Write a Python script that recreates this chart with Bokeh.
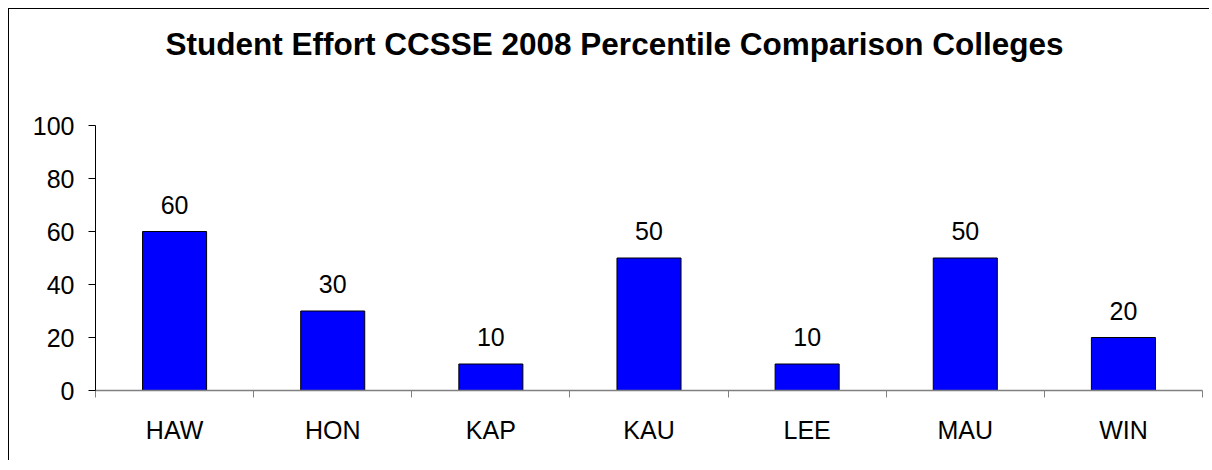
import numpy as np
from bokeh.plotting import figure
from bokeh.models import Range1d, FixedTicker, Label, ColumnDataSource
from bokeh.core.properties import value
from bokeh.embed import file_html
from bokeh.resources import INLINE

title_text = "Student Effort CCSSE 2008 Percentile Comparison Colleges"
colleges = ["HAW", "HON", "KAP", "KAU", "LEE", "MAU", "WIN"]
percentiles = [60, 30, 10, 50, 10, 50, 20]
y_ticks = [0, 20, 40, 60, 80, 100]

FONT = "Liberation Sans"

n = len(colleges)
centers = (np.arange(n) + 0.5).tolist()
bounds = list(range(n + 1))

# layout geometry (pixels)
W, H = 1201, 452
LEFT, RIGHT, BOTTOM = 86, 8, 71
AXIS_PX = 265            # pixel height of the 0..100 axis
frame_h = H - BOTTOM
y_top = 100 * frame_h / AXIS_PX   # frame extends to the top so the title fits inside

src = ColumnDataSource(dict(x=centers, y=percentiles,
                            lab=[str(v) for v in percentiles]))

p = figure(width=W, height=H, output_backend="svg", toolbar_location=None,
           x_range=Range1d(0, n), y_range=Range1d(0, y_top),
           min_border_left=LEFT, min_border_right=RIGHT, min_border_top=0,
           min_border_bottom=BOTTOM)
p.styles = {"margin-left": "8px", "margin-top": "8px",
            "border-top": "1px solid black", "border-left": "1px solid black"}
p.outline_line_color = None
p.outline_line_alpha = 0
p.xgrid.grid_line_color = None
p.ygrid.grid_line_color = None
p.background_fill_color = "white"
p.border_fill_color = "white"

p.vbar(x="x", top="y", width=0.405, bottom=0, source=src,
       fill_color="#0000FF", line_color="black", line_width=1)

p.text(x="x", y="y", text="lab", source=src, y_offset=-27,
       text_align="center", text_baseline="alphabetic",
       text_font=value(FONT), text_font_size="25px", text_color="black")

# x axis
xa = p.xaxis[0]
xa.ticker = FixedTicker(ticks=centers, minor_ticks=bounds)
xa.major_label_overrides = {c: name for c, name in zip(centers, colleges)}
xa.major_tick_line_color = None
xa.minor_tick_in = 0
xa.minor_tick_out = 7
xa.minor_tick_line_color = "#808080"
xa.axis_line_color = "#808080"
xa.axis_line_width = 1.5
xa.major_label_standoff = 18
xa.major_label_text_font = FONT
xa.major_label_text_font_size = "25px"
xa.major_label_text_color = "black"

# y axis
ya = p.yaxis[0]
ya.ticker = FixedTicker(ticks=y_ticks)
ya.bounds = (0, 100)
ya.major_tick_in = 0
ya.major_tick_out = 7
ya.minor_tick_line_color = None
ya.axis_line_color = "black"
ya.major_tick_line_color = "black"
ya.major_label_standoff = 14
ya.major_label_text_font = FONT
ya.major_label_text_font_size = "25px"
ya.major_label_text_color = "black"

title = Label(x=519, y=347, x_units="screen", y_units="screen",
              text=title_text, text_align="center", text_baseline="alphabetic",
              text_font=FONT, text_font_size="31.5px",
              text_font_style="bold", text_color="black")
p.add_layout(title)

open("out.html", "w").write(file_html(p, INLINE))
